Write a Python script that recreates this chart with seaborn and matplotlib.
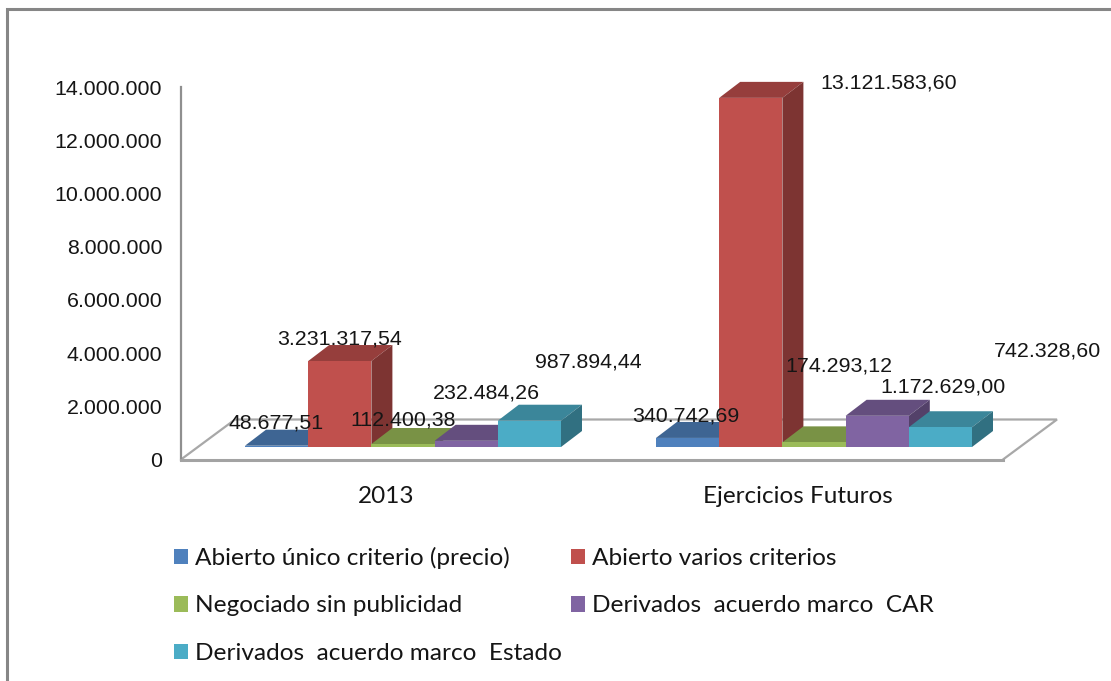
import matplotlib
matplotlib.use("Agg")
import matplotlib.pyplot as plt
from matplotlib.patches import Polygon, Rectangle
import pandas as pd
import seaborn as sns

# ---- data ----
periods = ["2013", "Ejercicios Futuros"]
procedures = [
    "Abierto único criterio (precio)",
    "Abierto varios criterios",
    "Negociado sin publicidad",
    "Derivados  acuerdo marco  CAR",
    "Derivados  acuerdo marco  Estado",
]
values_2013 = [48677.51, 3231317.54, 112400.38, 232484.26, 987894.44]
values_futuros = [340742.69, 13121583.60, 174293.12, 1172629.00, 742328.60]
y_ticks = [0, 2000000, 4000000, 6000000, 8000000, 10000000, 12000000, 14000000]
y_tick_labels = ["0", "2.000.000", "4.000.000", "6.000.000", "8.000.000",
                 "10.000.000", "12.000.000", "14.000.000"]
colors = ["#4F81BD", "#C0504D", "#9BBB59", "#8064A2", "#4BACC6"]

# ---- layout (pixels of the 1111x681 canvas) ----
W, H = 1111, 681
AX_L, AX_R, AX_T, AX_B = 181, 1003, 87, 459.5
PX_X = (AX_R - AX_L) / 2            # px per category unit
PX_Y = (AX_B - AX_T) / 14000000     # px per value unit
BAR_SHIFT = (16.5, 12.5)            # bars stand inside the floor
BAR_DEPTH = (21, 16)
FLOOR_DEPTH = (54, 40)
# label offsets from the top centre of each bar's front face, px (right, up)
label_offsets = [(-1, 23), (0, 22), (0.5, 24), (20.5, 48), (59, 59),
                 (-2, 22), (137.5, 15), (24.5, 76), (65.5, 29), (107.5, 76)]

sans = ["Liberation Sans", "DejaVu Sans"]
cal = ["Lato", "DejaVu Sans"]
TXT = "#151515"

sns.set_theme(style="white")
plt.rcParams["font.family"] = sans

df = pd.DataFrame({
    "periodo": [periods[0]] * 5 + [periods[1]] * 5,
    "procedimiento": procedures * 2,
    "importe": values_2013 + values_futuros,
})

fig = plt.figure(figsize=(W / 100, H / 100), dpi=100, facecolor="white")
ax = fig.add_axes([AX_L / W, 1 - AX_B / H, (AX_R - AX_L) / W, (AX_B - AX_T) / H])
ax.patch.set_alpha(0)

sns.barplot(data=df, x="periodo", y="importe", hue="procedimiento",
            order=periods, hue_order=procedures, palette=colors,
            width=316 / PX_X, gap=0, saturation=1, errorbar=None,
            linewidth=0, edgecolor="none", ax=ax, legend=True)
handles, labels = ax.get_legend_handles_labels()

ax.set_xlim(-0.5, 1.5)
ax.set_ylim(0, 14000000)
ax.set_xlabel("")
ax.set_ylabel("")
ax.set_yticks(y_ticks, y_tick_labels, fontsize=15.4, color=TXT)
ax.tick_params(axis="y", length=0, pad=13.5)
ax.tick_params(axis="x", length=0, pad=19, labelsize=17.5, labelcolor=TXT)
for t in ax.get_xticklabels():
    t.set_family(cal)
for s in ("top", "right"):
    ax.spines[s].set_visible(False)
ax.spines["left"].set_color("#8f8f8f")
ax.spines["left"].set_linewidth(1.6)
ax.spines["bottom"].set_color("#a3a3a3")
ax.spines["bottom"].set_linewidth(2.2)

# floor of the 3D plot
sx, sy = BAR_SHIFT[0] / PX_X, BAR_SHIFT[1] / PX_Y
dx, dy = BAR_DEPTH[0] / PX_X, BAR_DEPTH[1] / PX_Y
fx, fy = FLOOR_DEPTH[0] / PX_X, FLOOR_DEPTH[1] / PX_Y
ax.plot([-0.5, -0.5 + fx, 1.5 + fx, 1.5], [0, fy, fy, 0], color="#a8a8a8",
        lw=1.6, clip_on=False, zorder=1, solid_joinstyle="miter")


def shade(color, f):
    r, g, b = matplotlib.colors.to_rgb(color)
    return (r * f, g * f, b * f)


# extrude every bar of the library into a box, left to right
bars = sorted(
    [(b, i) for i, c in enumerate(ax.containers) for b in c],
    key=lambda item: item[0].get_x(),
)
for n, (bar, i) in enumerate(bars):
    x0 = bar.get_x() + sx
    w = bar.get_width()
    h = bar.get_height()
    bar.set_x(x0)
    bar.set_y(sy)
    y0, y1, x1 = sy, sy + h, x0 + w
    z = 3 + n
    bar.set_zorder(z + 0.5)
    bar.set_clip_on(False)
    ax.add_patch(Polygon([(x0, y1), (x1, y1), (x1 + dx, y1 + dy), (x0 + dx, y1 + dy)],
                         fc=shade(colors[i], 0.78), ec="none", zorder=z, clip_on=False))
    ax.add_patch(Polygon([(x1, y0), (x1 + dx, y0 + dy), (x1 + dx, y1 + dy), (x1, y1)],
                         fc=shade(colors[i], 0.65), ec="none", zorder=z, clip_on=False))
    value = h
    text = f"{value:,.2f}".replace(",", "#").replace(".", ",").replace("#", ".")
    k = (0 if bar.get_x() < 0.5 else 5) + i
    ox, oy = label_offsets[k]
    ax.annotate(text, xy=(x0 + w / 2, y1), xytext=(ox, oy), textcoords="offset pixels",
                ha="center", va="center", fontsize=15.4, color=TXT,
                zorder=50, annotation_clip=False)

# legend, filled row by row
order = [0, 2, 4, 1, 3]
ax.get_legend().remove()
leg = ax.legend([handles[i] for i in order], [labels[i] for i in order],
                ncols=2, loc="upper left", bbox_to_anchor=(174 / W, 1 - 547 / H),
                bbox_transform=fig.transFigure, frameon=False, borderpad=0,
                borderaxespad=0, handlelength=0.57, handleheight=0.6,
                handletextpad=0.30, columnspacing=0.36, labelspacing=1.08,
                prop={"family": cal, "size": 17.6})
for t in leg.get_texts():
    t.set_color(TXT)

# outer chart frame, cut by the canvas at the right and the bottom
fig.add_artist(Rectangle((7 / W, -0.05), 1.2, 1 + 0.05 - 9 / H, transform=fig.transFigure,
                         fc="none", ec="#868686", lw=2.2))

fig.savefig("out.png", dpi=100)
